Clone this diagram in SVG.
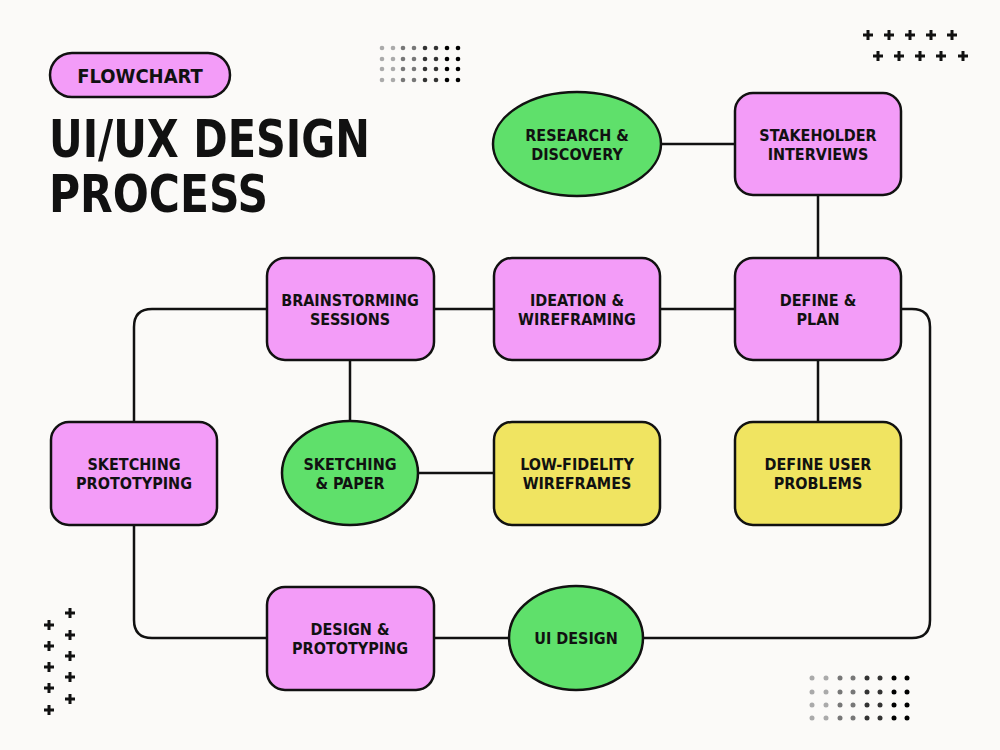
<svg xmlns="http://www.w3.org/2000/svg" width="1000" height="750" viewBox="0 0 1000 750">
<style>
.bg{fill:#fbfaf8}
.n{stroke:#111;stroke-width:2.5}
.pk{fill:#f39cf8}
.gr{fill:#5fe06b}
.yl{fill:#f0e461}
.c{fill:none;stroke:#111;stroke-width:2.5}
text{font-family:"Liberation Sans Narrow","DejaVu Sans Condensed","Roboto",sans-serif;font-weight:bold;fill:#111}
.t{font-size:16px;text-anchor:middle}
.ttl{font-size:52px}
.pl{stroke:#111;stroke-width:3}
</style>
<defs>
<path id="plus" d="M-5 0H5M0 -5V5" class="pl"/>
</defs>
<rect class="bg" width="1000" height="750"/>

<g id="header">
<rect x="50" y="53" width="180" height="44" rx="22" class="n pk"/>
<text x="140" y="83" style="font-size:20px;text-anchor:middle">FLOWCHART</text>
<text x="49" y="157" class="ttl" textLength="321" lengthAdjust="spacingAndGlyphs">UI/UX DESIGN</text>
<text x="49" y="212" class="ttl" textLength="219" lengthAdjust="spacingAndGlyphs">PROCESS</text>
</g>

<g id="decor">
<g id="dots-top">
<g fill="#aaa"><circle cx="382" cy="48" r="2.3"/><circle cx="382" cy="59" r="2.3"/><circle cx="382" cy="69" r="2.3"/><circle cx="382" cy="80" r="2.3"/>
<circle cx="393" cy="48" r="2.3"/><circle cx="393" cy="59" r="2.3"/><circle cx="393" cy="69" r="2.3"/><circle cx="393" cy="80" r="2.3"/></g>
<g fill="#777"><circle cx="403" cy="48" r="2.3"/><circle cx="403" cy="59" r="2.3"/><circle cx="403" cy="69" r="2.3"/><circle cx="403" cy="80" r="2.3"/>
<circle cx="414" cy="48" r="2.3"/><circle cx="414" cy="59" r="2.3"/><circle cx="414" cy="69" r="2.3"/><circle cx="414" cy="80" r="2.3"/></g>
<g fill="#333"><circle cx="425" cy="48" r="2.3"/><circle cx="425" cy="59" r="2.3"/><circle cx="425" cy="69" r="2.3"/><circle cx="425" cy="80" r="2.3"/>
<circle cx="436" cy="48" r="2.3"/><circle cx="436" cy="59" r="2.3"/><circle cx="436" cy="69" r="2.3"/><circle cx="436" cy="80" r="2.3"/></g>
<g fill="#000"><circle cx="447" cy="48" r="2.3"/><circle cx="447" cy="59" r="2.3"/><circle cx="447" cy="69" r="2.3"/><circle cx="447" cy="80" r="2.3"/>
<circle cx="458" cy="48" r="2.3"/><circle cx="458" cy="59" r="2.3"/><circle cx="458" cy="69" r="2.3"/><circle cx="458" cy="80" r="2.3"/></g>
</g>
<g id="dots-bottom">
<g fill="#aaa"><circle cx="812" cy="678" r="2.5"/><circle cx="812" cy="692" r="2.5"/><circle cx="812" cy="705" r="2.5"/><circle cx="812" cy="718" r="2.5"/>
<circle cx="826" cy="678" r="2.5"/><circle cx="826" cy="692" r="2.5"/><circle cx="826" cy="705" r="2.5"/><circle cx="826" cy="718" r="2.5"/></g>
<g fill="#777"><circle cx="840" cy="678" r="2.5"/><circle cx="840" cy="692" r="2.5"/><circle cx="840" cy="705" r="2.5"/><circle cx="840" cy="718" r="2.5"/>
<circle cx="853" cy="678" r="2.5"/><circle cx="853" cy="692" r="2.5"/><circle cx="853" cy="705" r="2.5"/><circle cx="853" cy="718" r="2.5"/></g>
<g fill="#333"><circle cx="867" cy="678" r="2.5"/><circle cx="867" cy="692" r="2.5"/><circle cx="867" cy="705" r="2.5"/><circle cx="867" cy="718" r="2.5"/>
<circle cx="880" cy="678" r="2.5"/><circle cx="880" cy="692" r="2.5"/><circle cx="880" cy="705" r="2.5"/><circle cx="880" cy="718" r="2.5"/></g>
<g fill="#000"><circle cx="894" cy="678" r="2.5"/><circle cx="894" cy="692" r="2.5"/><circle cx="894" cy="705" r="2.5"/><circle cx="894" cy="718" r="2.5"/>
<circle cx="907" cy="678" r="2.5"/><circle cx="907" cy="692" r="2.5"/><circle cx="907" cy="705" r="2.5"/><circle cx="907" cy="718" r="2.5"/></g>
</g>
<g id="plus-top">
<use href="#plus" x="868" y="35"/><use href="#plus" x="889" y="35"/><use href="#plus" x="910" y="35"/><use href="#plus" x="931" y="35"/><use href="#plus" x="952" y="35"/>
<use href="#plus" x="878" y="56"/><use href="#plus" x="899" y="56"/><use href="#plus" x="920" y="56"/><use href="#plus" x="941" y="56"/><use href="#plus" x="963" y="56"/>
</g>
<g id="plus-bottom">
<use href="#plus" x="49" y="625"/><use href="#plus" x="49" y="646"/><use href="#plus" x="49" y="667"/><use href="#plus" x="49" y="688"/><use href="#plus" x="49" y="710"/>
<use href="#plus" x="70" y="613"/><use href="#plus" x="70" y="635"/><use href="#plus" x="70" y="656"/><use href="#plus" x="70" y="677"/><use href="#plus" x="70" y="699"/>
</g>
</g>

<g id="connectors">
<path class="c" d="M661 144H735"/>
<path class="c" d="M818 195V258"/>
<path class="c" d="M735 309H660"/>
<path class="c" d="M494 309H434"/>
<path class="c" d="M267 309H152Q134 309 134 327V422"/>
<path class="c" d="M350 360V421"/>
<path class="c" d="M418 473H494"/>
<path class="c" d="M818 360V422"/>
<path class="c" d="M901 309H912Q930 309 930 327V620Q930 638 912 638H643"/>
<path class="c" d="M509 638H434"/>
<path class="c" d="M267 638H152Q134 638 134 620V525"/>
</g>

<g id="research">
<ellipse cx="577" cy="144" rx="84" ry="52" class="n gr"/>
<text class="t" x="577" y="141">RESEARCH &amp;</text>
<text class="t" x="577" y="160">DISCOVERY</text>
</g>
<g id="stakeholder">
<rect x="735" y="93" width="166" height="102" rx="18" class="n pk"/>
<text class="t" x="818" y="141">STAKEHOLDER</text>
<text class="t" x="818" y="160">INTERVIEWS</text>
</g>
<g id="define">
<rect x="735" y="258" width="166" height="102" rx="18" class="n pk"/>
<text class="t" x="818" y="306">DEFINE &amp;</text>
<text class="t" x="818" y="325">PLAN</text>
</g>
<g id="ideation">
<rect x="494" y="258" width="166" height="102" rx="18" class="n pk"/>
<text class="t" x="577" y="306">IDEATION &amp;</text>
<text class="t" x="577" y="325">WIREFRAMING</text>
</g>
<g id="brainstorming">
<rect x="267" y="258" width="167" height="102" rx="18" class="n pk"/>
<text class="t" x="350" y="306">BRAINSTORMING</text>
<text class="t" x="350" y="325">SESSIONS</text>
</g>
<g id="sketching-prototyping">
<rect x="51" y="422" width="166" height="103" rx="18" class="n pk"/>
<text class="t" x="134" y="470">SKETCHING</text>
<text class="t" x="134" y="489">PROTOTYPING</text>
</g>
<g id="sketching-paper">
<ellipse cx="350" cy="473" rx="68" ry="52" class="n gr"/>
<text class="t" x="350" y="470">SKETCHING</text>
<text class="t" x="350" y="489">&amp; PAPER</text>
</g>
<g id="low-fidelity">
<rect x="494" y="422" width="166" height="103" rx="18" class="n yl"/>
<text class="t" x="577" y="470">LOW-FIDELITY</text>
<text class="t" x="577" y="489">WIREFRAMES</text>
</g>
<g id="define-problems">
<rect x="735" y="422" width="166" height="103" rx="18" class="n yl"/>
<text class="t" x="818" y="470">DEFINE USER</text>
<text class="t" x="818" y="489">PROBLEMS</text>
</g>
<g id="design-prototyping">
<rect x="267" y="587" width="167" height="103" rx="18" class="n pk"/>
<text class="t" x="350" y="635">DESIGN &amp;</text>
<text class="t" x="350" y="654">PROTOTYPING</text>
</g>
<g id="ui-design">
<ellipse cx="576" cy="638" rx="67" ry="52" class="n gr"/>
<text class="t" x="576" y="644">UI DESIGN</text>
</g>
</svg>
